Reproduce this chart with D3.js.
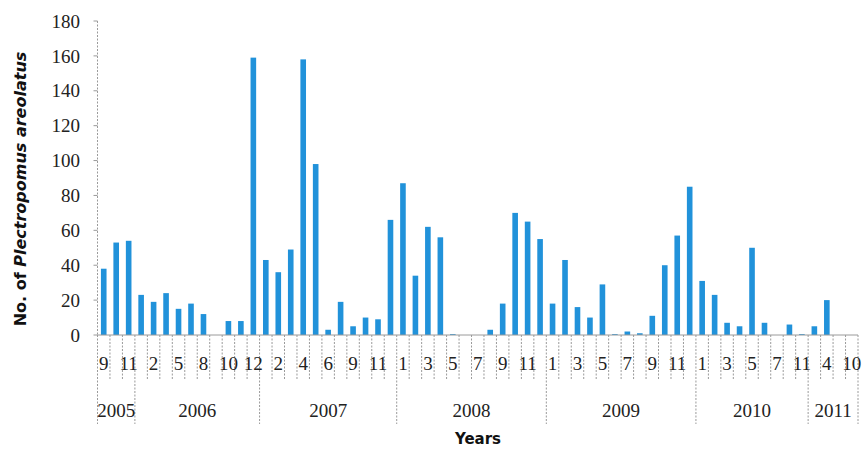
<!DOCTYPE html>
<html><head><meta charset="utf-8">
<script src="https://cdn.jsdelivr.net/npm/d3@7"></script>
<style>body{margin:0;background:#fff}</style>
</head><body>
<svg id="c" width="862" height="450"></svg>
<script>
const years = ["2005", "2006", "2007", "2008", "2009", "2010", "2011"];
const monthsByYear = [
  [9, 10, 11],
  [1, 2, 3, 5, 6, 8, 9, 10, 11, 12],
  [1, 2, 3, 4, 5, 6, 8, 9, 10, 11, 12],
  [1, 2, 3, 4, 5, 6, 7, 8, 9, 10, 11, 12],
  [1, 2, 3, 4, 5, 6, 7, 8, 9, 10, 11, 12],
  [1, 2, 3, 4, 5, 6, 7, 9, 11],
  [3, 4, 5, 10]
];
const counts = [
  38, 53, 54, 23, 19, 24, 15, 18, 12, 0,
  8, 8, 159, 43, 36, 49, 158, 98, 3, 19,
  5, 10, 9, 66, 87, 34, 62, 56, 0.5, 0,
  0, 3, 18, 70, 65, 55, 18, 43, 16, 10,
  29, 0.5, 2, 1, 11, 40, 57, 85, 31, 23,
  7, 5, 50, 7, 0, 6, 0.5, 5, 20, 0,
  0
];
const yTicks = [0, 20, 40, 60, 80, 100, 120, 140, 160, 180];

const cats = [];
years.forEach((y, yi) => monthsByYear[yi].forEach(m => cats.push({year: y, month: m, key: y + "-" + m})));
cats.forEach((c, i) => c.value = counts[i]);

const svg = d3.select("#c");
const mLeft = 97.5, mRight = 858, mTop = 21, mBottom = 335;
const x = d3.scaleBand().domain(cats.map(c => c.key)).range([mLeft, mRight]).padding(0);
const y = d3.scaleLinear().domain([0, 180]).range([mBottom, mTop]);
const serif = "'Liberation Serif', 'Times New Roman', serif";
const lineCol = "#9a9a9a";

// bars
const bw = x.bandwidth() * 0.45;
svg.append("g").selectAll("rect").data(cats).join("rect")
  .attr("x", d => x(d.key) + (x.bandwidth() - bw) / 2)
  .attr("width", bw)
  .attr("y", d => y(d.value))
  .attr("height", d => y(0) - y(d.value))
  .attr("fill", "#2192da");

// y axis
const ya = svg.append("g");
ya.append("line").attr("x1", mLeft).attr("x2", mLeft).attr("y1", y(180)).attr("y2", y(0))
  .attr("stroke", lineCol).attr("stroke-dasharray", "2,1.5");
ya.selectAll("line.t").data(yTicks).join("line").attr("class", "t")
  .attr("x1", mLeft - 4).attr("x2", mLeft).attr("y1", d => y(d)).attr("y2", d => y(d))
  .attr("stroke", lineCol);
ya.selectAll("text").data(yTicks).join("text")
  .attr("x", 80).attr("y", d => y(d)).attr("dy", "0.35em")
  .attr("text-anchor", "end").attr("font-family", serif).attr("font-size", 19)
  .attr("fill", "#222").text(d => d);

// x axis line
svg.append("line").attr("x1", mLeft).attr("x2", mRight).attr("y1", y(0)).attr("y2", y(0))
  .attr("stroke", lineCol);

// month tick lines between categories
const xa = svg.append("g");
cats.forEach((c, i) => {
  if (i > 0) {
    const bx = x(c.key);
    const isYear = cats[i - 1].year !== c.year;
    xa.append("line").attr("x1", bx).attr("x2", bx).attr("y1", y(0))
      .attr("y2", isYear ? 424 : 379)
      .attr("stroke", lineCol).attr("stroke-dasharray", "2,1.5");
  }
});
[mLeft, mRight].forEach(bx => xa.append("line").attr("x1", bx).attr("x2", bx)
  .attr("y1", y(0)).attr("y2", 424).attr("stroke", lineCol).attr("stroke-dasharray", "2,1.5"));

// month labels (every other category)
xa.selectAll("text.m").data(cats.filter((c, i) => i % 2 === 0)).join("text").attr("class", "m")
  .attr("x", d => x(d.key) + x.bandwidth() / 2).attr("y", 363).attr("dy", "0.35em")
  .attr("text-anchor", "middle").attr("font-family", serif).attr("font-size", 19)
  .attr("fill", "#222").text(d => d.month);

// year labels
years.forEach(yr => {
  const cs = cats.filter(c => c.year === yr);
  const x0 = x(cs[0].key), x1 = x(cs[cs.length - 1].key) + x.bandwidth();
  xa.append("text").attr("x", (x0 + x1) / 2).attr("y", 410).attr("dy", "0.35em")
    .attr("text-anchor", "middle").attr("font-family", serif).attr("font-size", 19)
    .attr("fill", "#222").text(yr);
});

// axis titles
const sans = "'DejaVu Sans', Verdana, sans-serif";
svg.append("text").attr("x", 478).attr("y", 439).attr("dy", "0.35em")
  .attr("text-anchor", "middle").attr("font-family", sans).attr("font-weight", "bold")
  .attr("font-size", 15).attr("fill", "#111").text("Years");

const yt = svg.append("text").attr("transform", "translate(20,189) rotate(-90)")
  .attr("dy", "0.35em").attr("text-anchor", "middle").attr("font-family", sans)
  .attr("font-weight", "bold").attr("font-size", 16).attr("fill", "#111");
yt.append("tspan").text("No. of ");
yt.append("tspan").attr("font-style", "italic").text("Plectropomus areolatus");
</script>
</body></html>
